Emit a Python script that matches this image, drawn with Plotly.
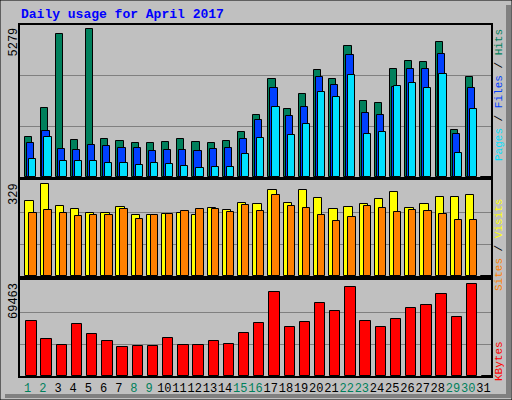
import plotly.graph_objects as go
from plotly.subplots import make_subplots

TITLE = "Daily usage for April 2017"

days = list(range(1, 32))
weekend_days = [1, 2, 8, 9, 15, 16, 22, 23, 29, 30]

hits = [1447, 2449, 5098, 1339, 5279, 1375, 1303, 1231, 1231, 1267, 1375, 1267, 1231, 1303, 1625,
        2234, 3487, 2413, 2950, 3810, 3487, 4669, 2700, 2628, 3845, 4132, 4096, 4812, 1697, 3559, 0]
files = [1231, 1661, 1017, 981, 1160, 1124, 1052, 1052, 945, 981, 981, 945, 1017, 1052, 1375,
         2055, 3165, 2163, 2485, 3559, 3272, 4346, 2270, 2234, 3201, 3845, 3845, 4382, 1554, 3165, 0]
pages = [659, 1447, 587, 587, 587, 516, 516, 444, 516, 480, 408, 337, 372, 372, 838,
         1411, 2485, 1518, 1912, 3022, 2843, 3630, 1554, 1625, 3237, 3344, 3165, 3667, 874, 2413, 0]
visits = [268, 329, 250, 240, 225, 225, 247, 218, 218, 222, 225, 218, 243, 236, 261,
          258, 308, 261, 308, 279, 240, 247, 258, 275, 300, 243, 258, 283, 283, 290, 0]
sites = [225, 236, 225, 215, 218, 218, 240, 204, 218, 222, 232, 240, 240, 229, 254,
         232, 290, 250, 243, 218, 197, 211, 250, 243, 229, 236, 232, 222, 200, 200, 0]
kbytes = [41330, 27630, 23070, 39050, 31430, 26110, 21540, 22300, 22300, 28390, 23070, 23070, 26110,
          23820, 32190, 39810, 63400, 36760, 40570, 55030, 48940, 67200, 41330, 36760, 42850, 51220,
          53490, 61870, 44360, 69463, 0]

MONO = "Liberation Mono, DejaVu Sans Mono, monospace"
W, H = 512, 400


def px_x(p):
    return p / W


def px_y(p):
    return 1 - p / H


fig = make_subplots(rows=3, cols=1)

line = dict(color="black", width=1)
fig.add_trace(go.Bar(x=days, y=hits, width=0.47, offset=-0.15, marker=dict(color="#00805C", line=line)), 1, 1)
fig.add_trace(go.Bar(x=days, y=files, width=0.47, offset=-0.02, marker=dict(color="#0040FF", line=line)), 1, 1)
fig.add_trace(go.Bar(x=days, y=pages, width=0.47, offset=0.11, marker=dict(color="#00E0FF", line=line)), 1, 1)
fig.add_trace(go.Bar(x=days, y=visits, width=0.55, offset=-0.15, marker=dict(color="#FFFF00", line=line)), 2, 1)
fig.add_trace(go.Bar(x=days, y=sites, width=0.48, offset=0.11, marker=dict(color="#FF8000", line=line)), 2, 1)
fig.add_trace(go.Bar(x=days, y=kbytes, width=0.68, offset=-0.09, marker=dict(color="#FF0000", line=line)), 3, 1)

# panel extents in pixels (top, bottom) and value ranges
panels = [(25, 177, max(hits) * 151.7 / 147.4),
          (180, 276, max(visits + sites) * 96 / 92),
          (280, 376, max(kbytes) * 95 / 91.3)]

ticktext = ["<span style='color:%s'>%d</span>" % ("#00805C" if d in weekend_days else "black", d)
            for d in days]

for i, (top, bottom, rng) in enumerate(panels, start=1):
    xa = "xaxis" if i == 1 else "xaxis%d" % i
    ya = "yaxis" if i == 1 else "yaxis%d" % i
    fig.layout[xa].update(domain=[px_x(20), px_x(491)], range=[0.5, 31.5],
                          showline=True, mirror=True, linecolor="black", linewidth=1.5,
                          showgrid=False, zeroline=False, ticks="", tickangle=0,
                          showticklabels=(i == 3), tickvals=days, ticktext=ticktext,
                          tickfont=dict(family=MONO, size=12))
    fig.layout[ya].update(domain=[px_y(bottom), px_y(top)], range=[0, rng],
                          showline=True, mirror=True, linecolor="black", linewidth=1.5,
                          tickvals=[rng / 3, 2 * rng / 3], showticklabels=False,
                          gridcolor="#808080", gridwidth=1, zeroline=False, ticks="")


def note(text, x, y, size=12, color="black", angle=-90, xanchor="center", yanchor="top"):
    return dict(text=text, x=px_x(x), y=px_y(y), xref="paper", yref="paper", textangle=angle,
                xanchor=xanchor, yanchor=yanchor, showarrow=False,
                font=dict(family=MONO, size=size, color=color))


annotations = [
    note("<b>" + TITLE + "</b>", 19, 15, size=13, color="#0000FF", angle=0, xanchor="left", yanchor="middle"),
    note(str(max(hits)), 14, 26),
    note(str(max(visits + sites)), 14, 181),
    note(str(max(kbytes)), 14, 281),
    note("<span style='color:#00E0FF'>Pages</span> / <span style='color:#0040FF'>Files</span>"
         " / <span style='color:#00805C'>Hits</span>", 499, 27, size=11),
    note("<span style='color:#FF8000'>Sites</span> / <span style='color:#FFFF00'>Visits</span>",
         499, 197, size=11),
    note("KBytes", 499, 339, size=11, color="#FF0000"),
]

shapes = [
    dict(type="rect", xref="paper", yref="paper", x0=px_x(506), x1=px_x(511), y0=px_y(398), y1=px_y(5),
         fillcolor="#808080", line=dict(width=0)),
    dict(type="rect", xref="paper", yref="paper", x0=px_x(5), x1=px_x(511), y0=px_y(398), y1=px_y(394),
         fillcolor="#808080", line=dict(width=0)),
    dict(type="rect", xref="paper", yref="paper", x0=0, x1=1, y0=0, y1=1,
         line=dict(color="black", width=1)),
]

fig.update_layout(width=W, height=H, autosize=False, margin=dict(l=0, r=0, t=0, b=0),
                  paper_bgcolor="#C0C0C0", plot_bgcolor="#C0C0C0", showlegend=False,
                  barmode="overlay", bargap=0, annotations=annotations, shapes=shapes)

fig.write_html("out.html", config={"displayModeBar": False},
               post_script="document.body.style.margin='0';document.body.style.overflow='hidden';")
